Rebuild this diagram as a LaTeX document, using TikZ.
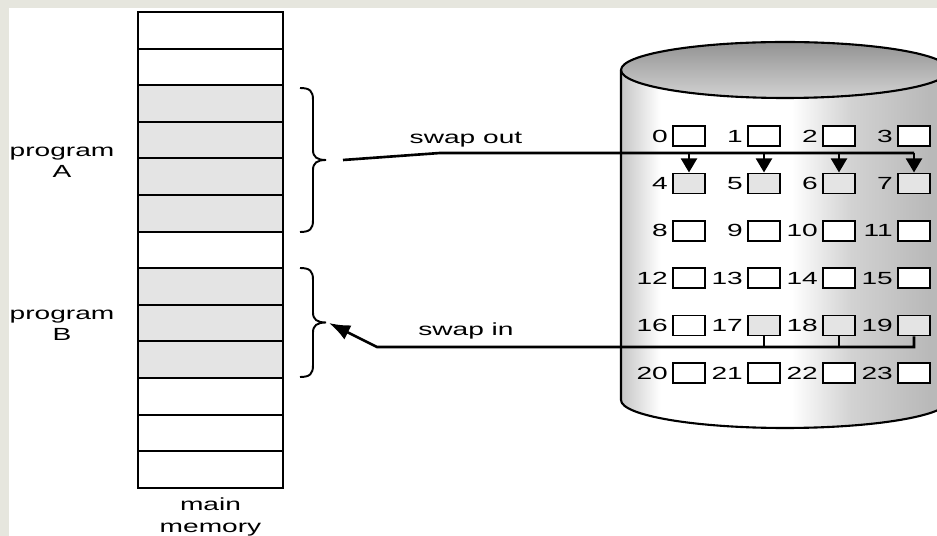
\documentclass[tikz,border=0pt]{standalone}
\usepackage{fontspec}
\newfontfamily\widesans[FakeStretch=1.6]{Liberation Sans}
\usepackage{tikz}
\usetikzlibrary{positioning,arrows.meta}
\definecolor{stripgray}{RGB}{230,230,222}
\definecolor{cellgray}{RGB}{228,228,228}
\pgfdeclarehorizontalshading{diskbody}{100bp}{color(0bp)=(gray!45); color(25bp)=(gray!45); color(31bp)=(white); color(51bp)=(white); color(60bp)=(gray!35); color(72bp)=(gray!55); color(100bp)=(gray!55)}
\tikzset{
  cell/.style={draw, line width=1.1pt, minimum width=2.9cm, minimum height=0.732cm, inner sep=0pt, outer sep=0pt},
  blk/.style={draw, line width=1pt, minimum width=0.64cm, minimum height=0.4cm, inner sep=0pt},
  num/.style={inner sep=0pt, font=\widesans\fontsize{10}{12}\selectfont},
  lbl/.style={inner sep=0pt, align=center, font=\widesans\fontsize{10}{12}\selectfont},
  wire/.style={line width=1.5pt},
  brc/.style={line width=1.1pt},
}

\begin{document}
\begin{tikzpicture}[x=0.02cm,y=-0.02cm]
\useasboundingbox (0,0) rectangle (937,536);
\fill[stripgray] (0,0) rectangle (937,536);
\fill[white] (9,8) rectangle (937,536);

% main memory
\foreach \i/\f in {1/white,2/white,3/cellgray,4/cellgray,5/cellgray,6/cellgray,7/white,8/cellgray,9/cellgray,10/cellgray,11/white,12/white,13/white}{
  \pgfmathsetmacro\cy{12+36.6*(\i-0.5)}
  \node[cell, fill=\f] (m\i) at (210.5,\cy) {};
}
\node[lbl] (progA) at (62,162) {program\\A};
\node[lbl] (progB) at (62,325) {program\\B};
\node[lbl] (mainmem) at (210.5,517) {main\\memory};

% braces
\foreach \t/\b in {88/232,268/377}{
  \pgfmathsetmacro\mid{(\t+\b)/2}
  \draw[brc] (300,\t) .. controls (310,\t) and (313,\t+3) .. (313,\t+12)
    -- (313,\mid-10) .. controls (313,\mid-3) and (317,\mid) .. (326,\mid)
    .. controls (317,\mid) and (313,\mid+3) .. (313,\mid+10)
    -- (313,\b-12) .. controls (313,\b-3) and (310,\b) .. (300,\b);
}

% disk
\begin{scope}
\clip (0,0) rectangle (937,536);
\shade[shading=diskbody] (621,70) -- (621,400) arc[start angle=180, end angle=360, x radius=3.28cm, y radius=0.56cm] -- (949,70) -- cycle;
\shade[top color=gray!85, bottom color=gray!35] (785,70) ellipse [x radius=3.28cm, y radius=0.56cm];
\draw[line width=1.2pt] (785,70) ellipse [x radius=3.28cm, y radius=0.56cm];
\draw[line width=1.2pt] (621,70) -- (621,400) arc[start angle=180, end angle=360, x radius=3.28cm, y radius=0.56cm];
\end{scope}

\foreach \i in {0,...,23}{
  \pgfmathsetmacro\bx{689+75*mod(\i,4)}
  \pgfmathsetmacro\by{136+47.4*int(\i/4)}
  \pgfmathtruncatemacro\g{(\i>3)*(\i<8)+(\i>16)*(\i<20)}
  \ifnum\g=1 \def\f{cellgray}\else\def\f{white}\fi
  \node[blk, fill=\f] (b\i) at (\bx,\by) {};
  \node[num, left=0.08cm of b\i] (n\i) {\i};
}

% swap out
\coordinate (outA) at (343,160);
\coordinate (bendA) at (440,153);
\draw[wire] (outA) -- (bendA) -- (b7.north |- bendA);
\node[lbl, anchor=south] (swout) at (466,148) {swap out};
\foreach \i in {4,...,7}
  \draw[wire,-{Triangle[width=9pt,length=8pt]}] (b\i.north |- bendA) -- (b\i.north);

% swap in
\coordinate (inB) at (377,347);
\coordinate (tipB) at (329,323);
\draw[wire,-{Latex[width=9pt,length=12pt]}] (b19.south) -- (b19.south |- inB) -- (inB) -- (tipB);
\draw[wire] (b17.south) -- (b17.south |- inB);
\draw[wire] (b18.south) -- (b18.south |- inB);
\node[lbl, anchor=south] (swin) at (466,340) {swap in};
\end{tikzpicture}
\end{document}
